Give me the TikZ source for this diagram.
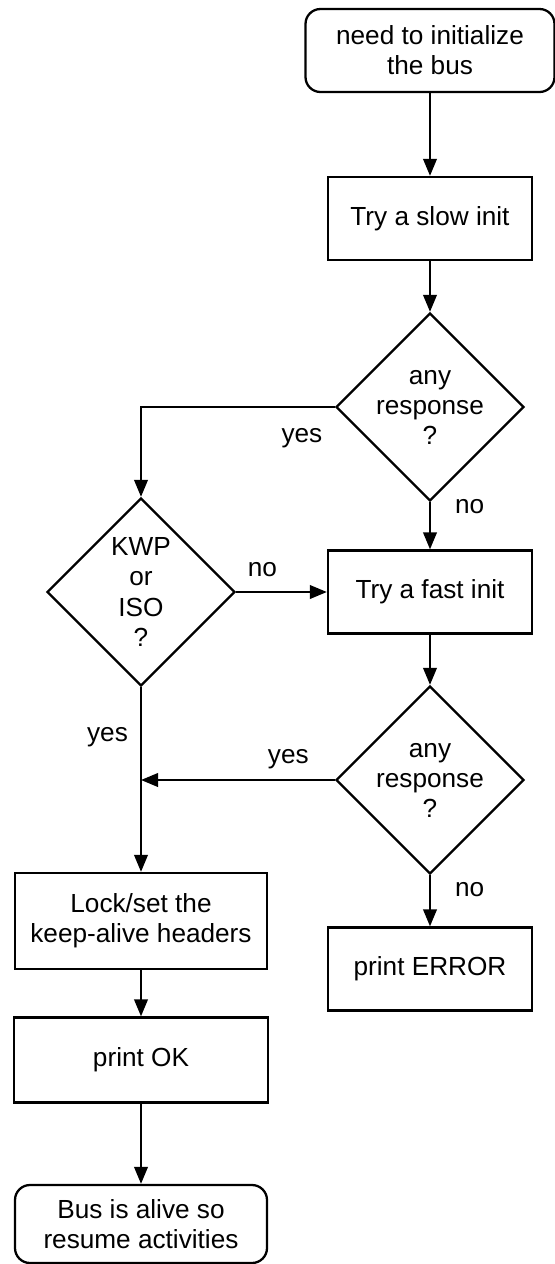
\documentclass[tikz,border=0pt]{standalone}
\usepackage{fontspec}
\setmainfont{Liberation Sans}
\usetikzlibrary{shapes.geometric,arrows.meta}

\begin{document}
\begin{tikzpicture}[node distance = 3.7cm, font=\fontsize{14.9}{17.1}\selectfont]
	\tikzstyle{term} = [rectangle, rounded corners=0.3cm, draw=black, line width=1.3pt, align=center, minimum width=4.98cm, minimum height=1.66cm]
\tikzstyle{proc} = [rectangle, draw=black, line width=1.3pt, align=center, minimum width=4.08cm, minimum height=1.66cm]
\tikzstyle{dec} = [diamond, draw=black, line width=1.3pt, align=center, inner sep=0pt, minimum width=3.76cm, minimum height=3.76cm]
\tikzstyle{line} = [line width=1.3pt, ->, >={Triangle[length=0.34cm,width=0.27cm]}]
\tikzstyle{lbl} = [inner sep=0pt]
\useasboundingbox (0,0) rectangle (11.08,-25.28);
\node(start)[term] at (8.6,-1.01) {need to initialize\\the bus};
\node(slow)[proc, below of = start, node distance=3.36cm] {Try a slow init};
\node(any1)[dec, below of = slow, node distance=3.77cm] {any\\response\\?};
\node(fast)[proc, below of = any1] {Try a fast init};
\node(any2)[dec, below of = fast, node distance=3.76cm] {any\\response\\?};
\node(err)[proc, below of = any2, node distance=3.78cm] {print ERROR};
\node(kwp)[dec, left of = fast, node distance=5.78cm] {KWP\\or\\ISO\\?};
\node(lock)[proc, below of = kwp, node distance=6.58cm, minimum width=5.04cm, minimum height=1.92cm] {Lock/set the\\keep-alive headers};
\node(ok)[proc, below of = lock, node distance=2.78cm, minimum width=5.08cm, minimum height=1.7cm] {print OK};
\node(stop)[term, below of = ok, node distance=3.28cm, minimum width=5.04cm, minimum height=1.56cm] {Bus is alive so\\resume activities};
\coordinate(join) at (kwp |- any2);
\draw[line] (start) -- (slow);
\draw[line] (slow) -- (any1);
\draw[line] (any1.west) -| (kwp.north) node[lbl, pos=0.085, below=0.4cm] {yes};
\draw[line] (any1) -- (fast) node[lbl, pos=0.1, right=0.48cm] {no};
\draw[line] (kwp) -- (fast) node[lbl, pos=0.29, above=0.28cm] {no};
\draw[line] (fast) -- (any2);
\draw[line] (any2) -- (join) node[lbl, pos=0.24, above=0.2cm] {yes};
\draw[line] (kwp) -- (lock) node[lbl, pos=0.27, left=0.24cm] {yes};
\draw[line] (any2) -- (err) node[lbl, pos=0.29, right=0.48cm] {no};
\draw[line] (lock) -- (ok);
\draw[line] (ok) -- (stop);
  \end{tikzpicture}
\end{document}
